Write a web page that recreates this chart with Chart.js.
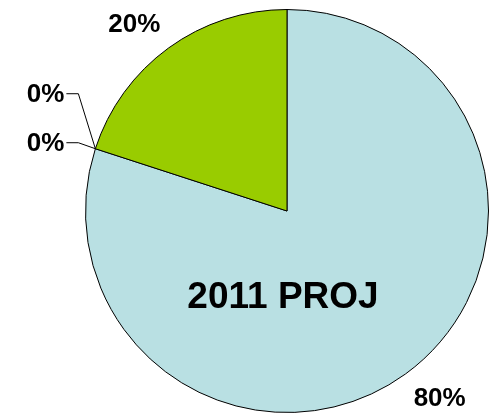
<!DOCTYPE html>
<html>
<head>
<meta charset="utf-8">
<style>
  html, body { margin: 0; padding: 0; background: #fff; }
  #wrap { width: 490px; height: 416px; position: relative; }
</style>
<script src="https://cdn.jsdelivr.net/npm/chart.js@4/dist/chart.umd.min.js"></script>
</head>
<body>
<div id="wrap"><canvas id="c" width="490" height="416"></canvas></div>
<script>
const categories = ['2011 PROJ', 'Cat B', 'Cat C', 'Cat D'];
const values = [80, 0, 0, 20];
const valueLabels = ['80%', '0%', '0%', '20%'];
const sliceColors = ['#b9e0e3', '#ffffff', '#ffffff', '#99cc00'];
const centerTitle = '2011 PROJ';

const labelPlugin = {
  id: 'labels',
  afterDatasetsDraw(chart) {
    const ctx = chart.ctx;
    const meta = chart.getDatasetMeta(0);
    ctx.save();
    ctx.fillStyle = '#000';
    ctx.strokeStyle = '#000';
    ctx.lineWidth = 1;
    ctx.textBaseline = 'middle';
    ctx.textAlign = 'center';
    ctx.font = 'bold 26px "Liberation Sans", Arial, sans-serif';
    let zeroIdx = 0;
    meta.data.forEach((arc, i) => {
      const p = arc.getProps(['x', 'y', 'startAngle', 'endAngle', 'outerRadius'], true);
      const mid = (p.startAngle + p.endAngle) / 2 - 0.056;
      if (values[i] > 0) {
        const r = p.outerRadius + 40;
        ctx.fillText(valueLabels[i], p.x + Math.cos(mid) * r, p.y + Math.sin(mid) * r + 1);
      } else {
        const a = (p.startAngle + p.endAngle) / 2;
        const ex = p.x + Math.cos(a) * p.outerRadius;
        const ey = p.y + Math.sin(a) * p.outerRadius;
        const ly = zeroIdx === 0 ? ey - 55 : ey - 6;
        const bx = ex - 17;
        ctx.beginPath();
        ctx.moveTo(ex, ey);
        ctx.lineTo(bx, ly);
        ctx.lineTo(bx - 12, ly);
        ctx.stroke();
        ctx.textAlign = 'right';
        ctx.fillText(valueLabels[i], bx - 14, ly + 1);
        ctx.textAlign = 'center';
        zeroIdx++;
      }
    });
    const big = meta.data[0].getProps(['x', 'y', 'outerRadius'], true);
    ctx.font = 'bold 37px "Liberation Sans", Arial, sans-serif';
    ctx.fillText(centerTitle, big.x - 4, big.y + 87);
    ctx.restore();
  }
};

new Chart(document.getElementById('c'), {
  type: 'pie',
  data: {
    labels: categories,
    datasets: [{
      data: values,
      backgroundColor: sliceColors,
      borderColor: '#000',
      borderWidth: 1
    }]
  },
  options: {
    responsive: false,
    animation: false,
    layout: { padding: { left: 85, right: 1, top: 9, bottom: 3 } },
    plugins: { legend: { display: false }, tooltip: { enabled: false } }
  },
  plugins: [labelPlugin]
});
</script>
</body>
</html>
